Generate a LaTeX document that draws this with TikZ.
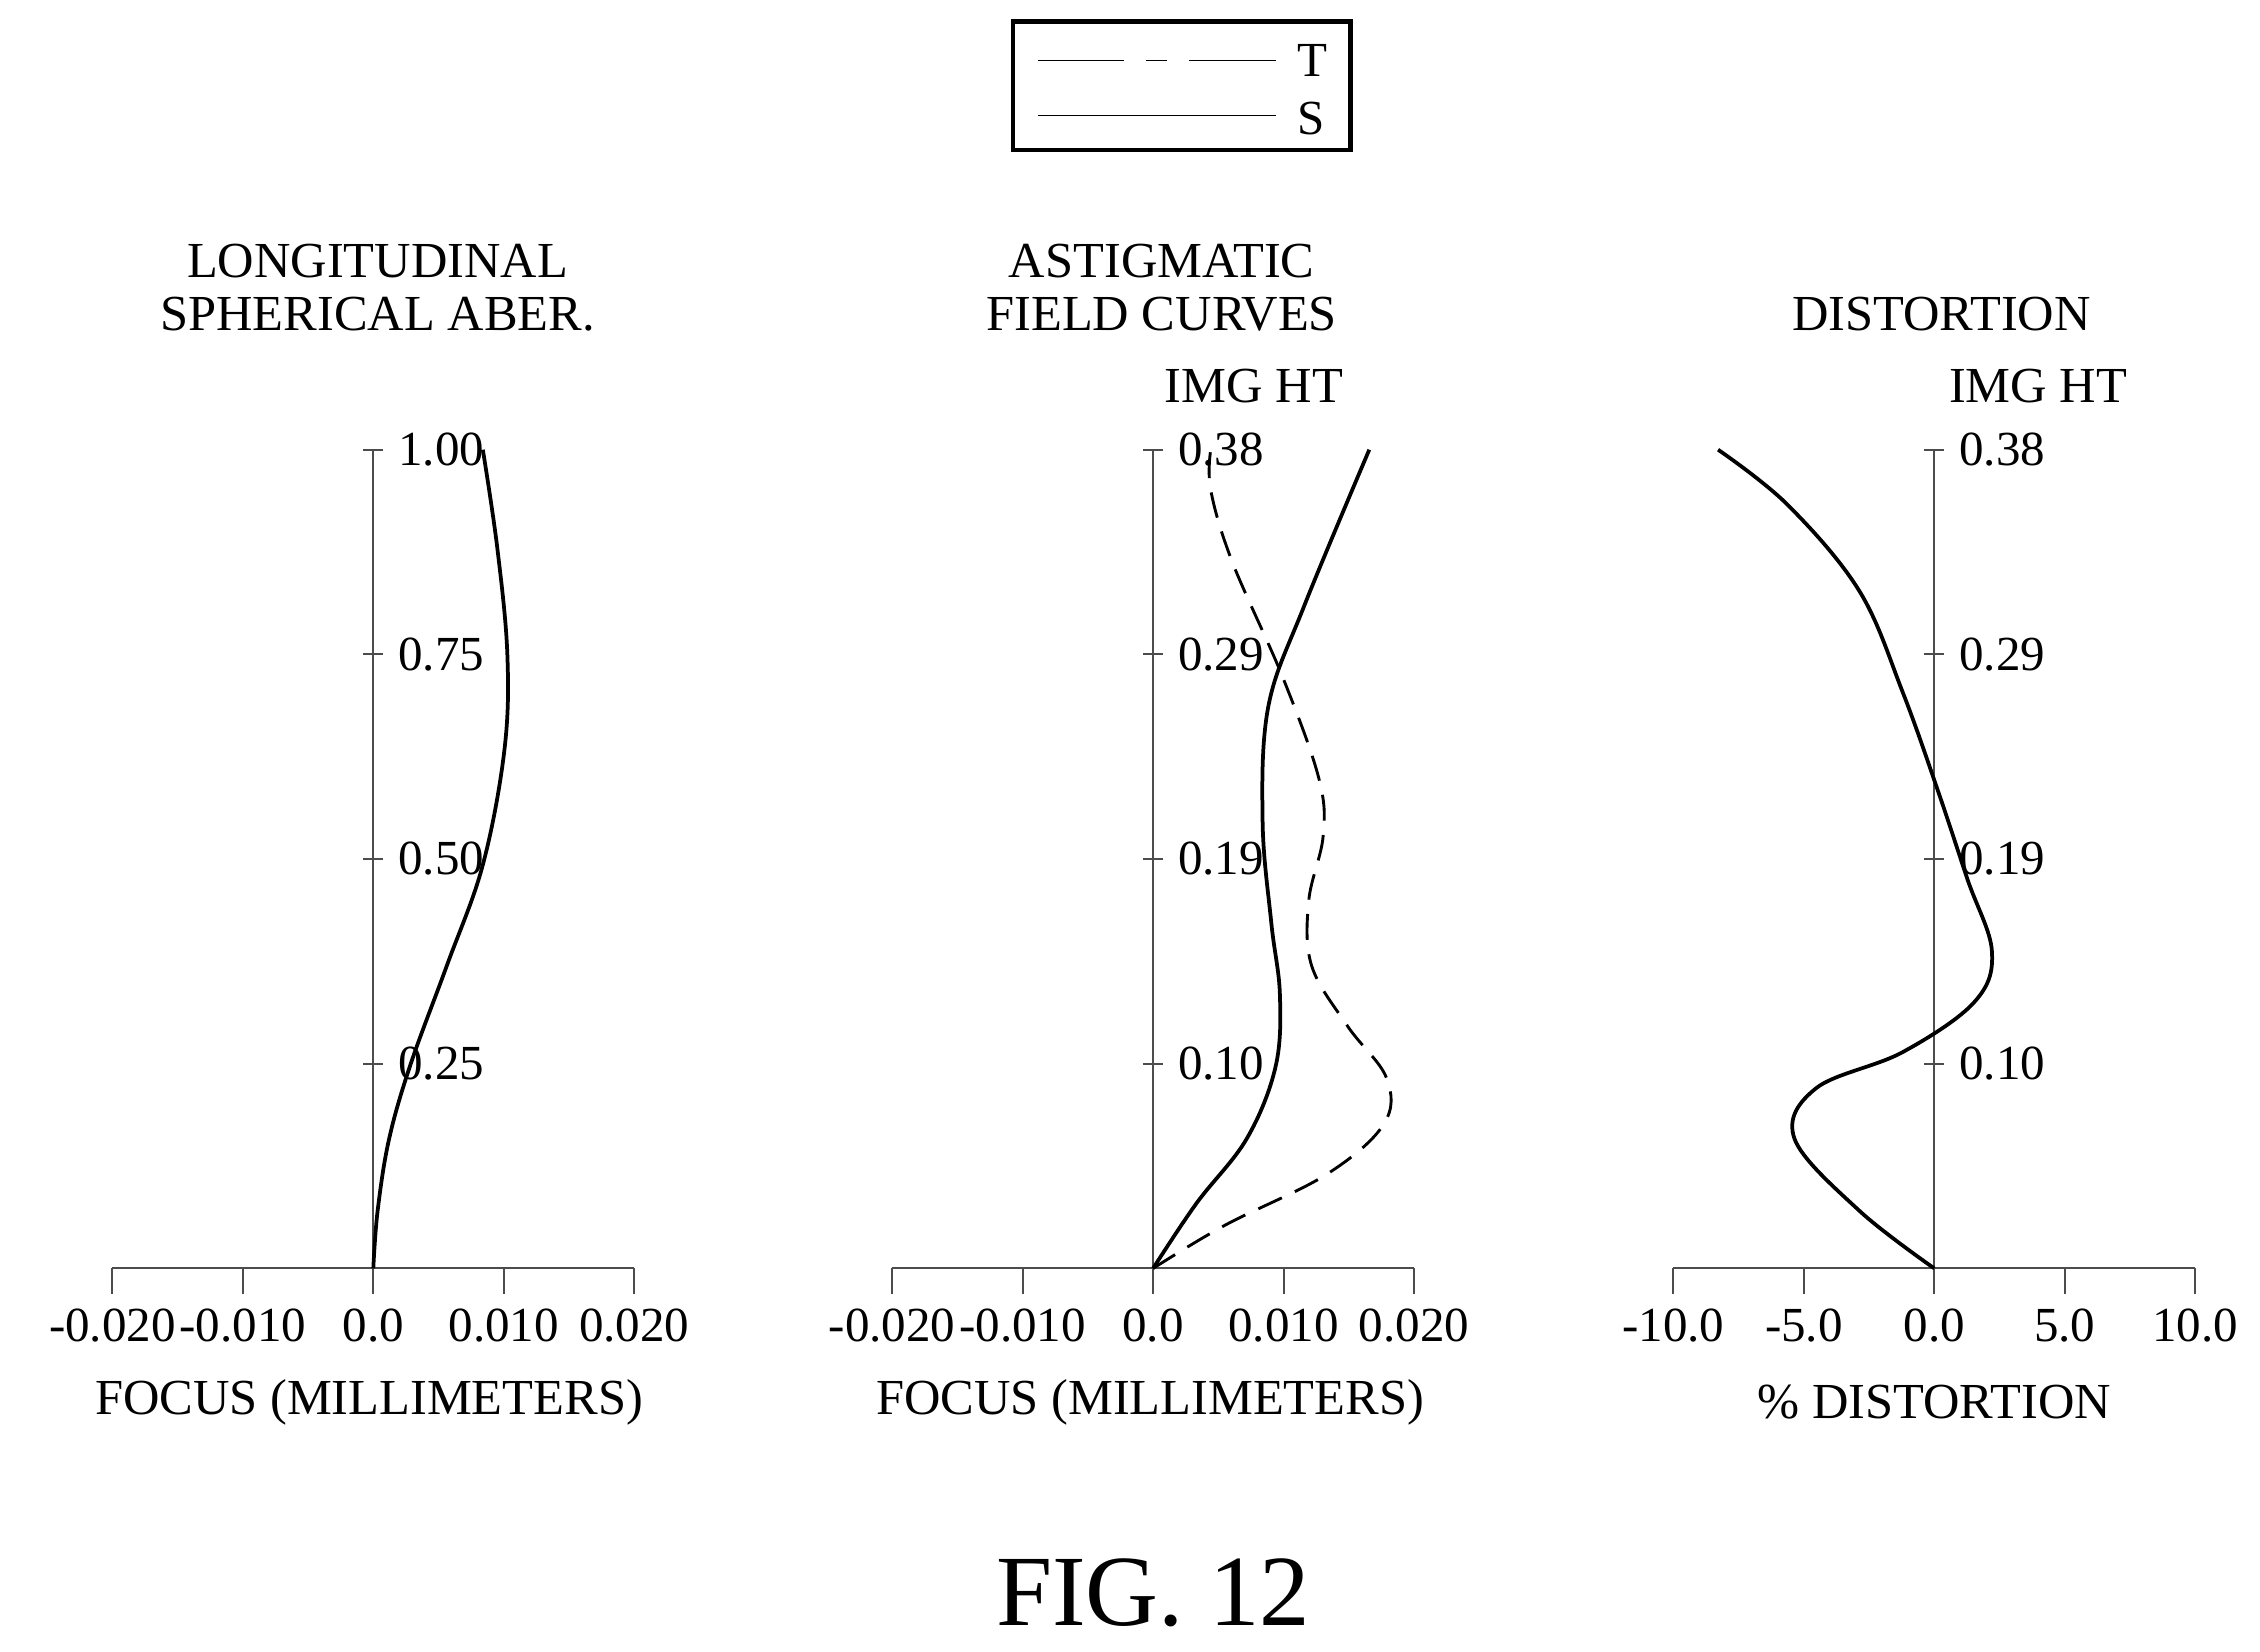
\documentclass[tikz,border=0pt]{standalone}
\usepackage{fontspec}
\setmainfont{Liberation Serif}
\begin{document}
\begin{tikzpicture}[x=0.5pt,y=-0.5pt,
 ax/.style={line width=0.7pt,black!70},
 cv/.style={line width=1.3pt,black},
 dcv/.style={line width=1pt,black,dash pattern=on 9pt off 5pt},
 lab/.style={font=\fontsize{17}{20}\selectfont,inner sep=0pt},
 ttl/.style={font=\fontsize{17.5}{20}\selectfont,inner sep=0pt}]
\useasboundingbox (0,0) rectangle (1568,1146);
% legend
\node[draw,line width=1.5pt,minimum width=117pt,minimum height=44.5pt,inner sep=0pt] (leg) at (820,59.5) {};
\coordinate (t1) at (720,42); \coordinate (t2) at (885,42);
\coordinate (s1) at (720,80); \coordinate (s2) at (885,80);
\draw[line width=0.5pt] (t1) -- (780,42);
\draw[line width=0.5pt] (795,42) -- (810,42);
\draw[line width=0.5pt] (825,42) -- (t2);
\draw[line width=0.5pt] (s1) -- (s2);
\node[lab,anchor=west] (tl) at (900,42) {T};
\node[lab,anchor=west] (sl) at (900,82) {S};
% generic axes
\foreach \ox/\nm in {259/a,800/b,1342/c}{
  \draw[ax] (\ox-181,880) -- (\ox+181,880);
  \draw[ax] (\ox,880) -- (\ox,312);
  \foreach \dx in {-181,-90.5,0,90.5,181} \draw[ax] (\ox+\dx,880) -- (\ox+\dx,898);
  \foreach \yy in {312,454,596,738} \draw[ax] (\ox-7,\yy) -- (\ox+7,\yy);
}
% tick labels x
\foreach \ox in {259,800}{
 \foreach \dx/\t in {-181/-0.020,-90.5/-0.010,0/0.0,90.5/0.010,181/0.020}
  \node[lab] at (\ox+\dx,920) {\t};
}
\foreach \dx/\t in {-181/-10.0,-90.5/-5.0,0/0.0,90.5/5.0,181/10.0}
  \node[lab] at (1342+\dx,920) {\t};
% y labels
\foreach \yy/\t in {312/1.00,454/0.75,596/0.50,738/0.25} \node[lab,anchor=west] at (276,\yy) {\t};
\foreach \ox in {817,1359}{
 \foreach \yy/\t in {312/0.38,454/0.29,596/0.19,738/0.10} \node[lab,anchor=west] at (\ox,\yy) {\t};
}
% titles
\node[ttl] (t1a) at (262,181) {LONGITUDINAL};
\node[ttl] (t1b) at (262,218) {SPHERICAL ABER.};
\node[ttl] (t2a) at (806,181) {ASTIGMATIC};
\node[ttl] (t2b) at (806,218) {FIELD CURVES};
\node[ttl] (t3a) at (1347,218) {DISTORTION};
\node[ttl] at (870,268) {IMG HT};
\node[ttl] at (1414,268) {IMG HT};
\node[ttl] at (256,973) {FOCUS (MILLIMETERS)};
\node[ttl] at (798,973) {FOCUS (MILLIMETERS)};
\node[ttl] at (1342,973) {\% DISTORTION};
\node[font=\fontsize{35}{40}\selectfont,inner sep=0pt] (fig) at (800,1105) {FIG. 12};
% curves
\draw[cv] plot[smooth,tension=0.6] coordinates {(259,880)(262,840)(270,790)(285,738)(310,670)(335,600)(350,520)(352,454)(345,380)(335,312)};
\draw[cv] plot[smooth,tension=0.6] coordinates {(800,880)(830,835)(865,790)(885,740)(888,690)(882,640)(876,570)(880,490)(905,420)(950,312)};
\draw[dcv] plot[smooth,tension=0.6] coordinates {(800,880)(850,850)(920,815)(960,780)(962,748)(935,712)(910,670)(908,625)(918,580)(915,540)(890,470)(855,390)(840,340)(840,312)};
\draw[cv] plot[smooth,tension=0.6] coordinates {(1342,880)(1290,840)(1245,790)(1260,755)(1320,730)(1370,695)(1382,660)(1365,610)(1345,550)(1320,480)(1290,410)(1240,350)(1192,312)};
\end{tikzpicture}
\end{document}
